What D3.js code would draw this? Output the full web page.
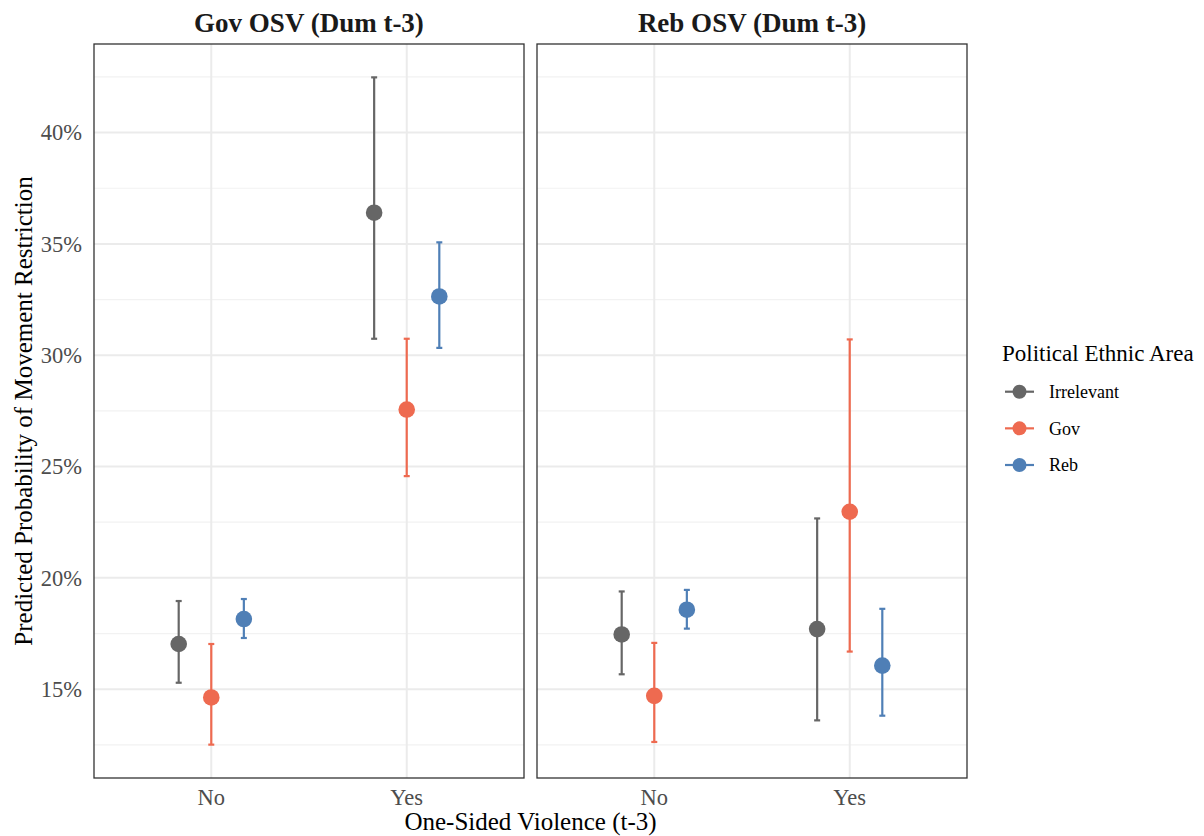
<!DOCTYPE html>
<html>
<head>
<meta charset="utf-8">
<script src="https://cdn.jsdelivr.net/npm/d3@7"></script>
<style>
  html, body { margin: 0; padding: 0; background: #fff; }
  svg { display: block; font-family: "Liberation Serif", "DejaVu Serif", serif; }
</style>
</head>
<body>
<svg id="chart" width="1204" height="836"></svg>
<script>
// ---- data (percent) ----
const panels = ["Gov OSV (Dum t-3)", "Reb OSV (Dum t-3)"];
const categories = ["No", "Yes"];
const groups = ["Irrelevant", "Gov", "Reb"];
const groupColors = ["#666666", "#EE6A50", "#4F7FB6"];

// Gov OSV panel: values per group, [No, Yes]
const govIrrEst = [17.03, 36.40], govIrrLo = [15.29, 30.74], govIrrHi = [18.96, 42.48];
const govGovEst = [14.63, 27.56], govGovLo = [12.51, 24.57], govGovHi = [17.03, 30.74];
const govRebEst = [18.15, 32.64], govRebLo = [17.30, 30.33], govRebHi = [19.05, 35.07];
// Reb OSV panel
const rebIrrEst = [17.46, 17.70], rebIrrLo = [15.67, 13.60], rebIrrHi = [19.39, 22.67];
const rebGovEst = [14.70, 22.97], rebGovLo = [12.63, 16.69], rebGovHi = [17.08, 30.71];
const rebRebEst = [18.57, 16.06], rebRebLo = [17.72, 13.81], rebRebHi = [19.46, 18.61];

const yMajorTicks = [15, 20, 25, 30, 35, 40];
const yMinorTicks = [12.5, 17.5, 22.5, 27.5, 32.5, 37.5, 42.5];
const yTickLabels = ["15%", "20%", "25%", "30%", "35%", "40%"];

const yTitle = "Predicted Probability of Movement Restriction";
const xTitle = "One-Sided Violence (t-3)";
const legendTitle = "Political Ethnic Area";

// build rows
const panelData = [
  [[govIrrEst, govIrrLo, govIrrHi], [govGovEst, govGovLo, govGovHi], [govRebEst, govRebLo, govRebHi]],
  [[rebIrrEst, rebIrrLo, rebIrrHi], [rebGovEst, rebGovLo, rebGovHi], [rebRebEst, rebRebLo, rebRebHi]]
];
const rows = [];
panelData.forEach((pd, pi) => pd.forEach((g, gi) => categories.forEach((c, ci) => {
  rows.push({panel: pi, group: gi, cat: c, est: g[0][ci], lo: g[1][ci], hi: g[2][ci]});
})));

// ---- layout ----
const svg = d3.select("#chart");
const plotTop = 44, plotBottom = 778;
const panelX = [[94, 524], [537, 967]];

const dMin = d3.min(rows, d => d.lo), dMax = d3.max(rows, d => d.hi);
const pad = (dMax - dMin) * 0.05;
const y = d3.scaleLinear().domain([dMin - pad, dMax + pad]).range([plotBottom, plotTop]);

panelX.forEach((px, pi) => {
  const x = d3.scalePoint().domain(categories).range(px).padding(0.6);
  const step = x.step();
  const dodge = gi => (gi - 1) * step * 0.5 / 3;
  const g = svg.append("g");

  // minor grid
  g.selectAll(".minor").data(yMinorTicks).join("line")
    .attr("x1", px[0]).attr("x2", px[1])
    .attr("y1", d => y(d)).attr("y2", d => y(d))
    .attr("stroke", "#F2F2F2").attr("stroke-width", 1.2);
  // major grid
  g.selectAll(".major").data(yMajorTicks).join("line")
    .attr("x1", px[0]).attr("x2", px[1])
    .attr("y1", d => y(d)).attr("y2", d => y(d))
    .attr("stroke", "#EBEBEB").attr("stroke-width", 2);
  g.selectAll(".vmajor").data(categories).join("line")
    .attr("x1", d => x(d)).attr("x2", d => x(d))
    .attr("y1", plotTop).attr("y2", plotBottom)
    .attr("stroke", "#EBEBEB").attr("stroke-width", 2);

  const pr = rows.filter(r => r.panel === pi);
  // error bars
  const eb = g.selectAll(".eb").data(pr).join("g")
    .attr("stroke", d => groupColors[d.group]).attr("stroke-width", 2.2);
  eb.append("line")
    .attr("x1", d => x(d.cat) + dodge(d.group)).attr("x2", d => x(d.cat) + dodge(d.group))
    .attr("y1", d => y(d.lo)).attr("y2", d => y(d.hi));
  eb.append("line")
    .attr("x1", d => x(d.cat) + dodge(d.group) - 3).attr("x2", d => x(d.cat) + dodge(d.group) + 3)
    .attr("y1", d => y(d.lo)).attr("y2", d => y(d.lo));
  eb.append("line")
    .attr("x1", d => x(d.cat) + dodge(d.group) - 3).attr("x2", d => x(d.cat) + dodge(d.group) + 3)
    .attr("y1", d => y(d.hi)).attr("y2", d => y(d.hi));
  // points
  g.selectAll(".pt").data(pr).join("circle")
    .attr("cx", d => x(d.cat) + dodge(d.group)).attr("cy", d => y(d.est))
    .attr("r", 8.3).attr("fill", d => groupColors[d.group]);

  // border
  g.append("rect").attr("x", px[0]).attr("y", plotTop)
    .attr("width", px[1] - px[0]).attr("height", plotBottom - plotTop)
    .attr("fill", "none").attr("stroke", "#333333").attr("stroke-width", 1.3);

  // strip title
  g.append("text").attr("x", (px[0] + px[1]) / 2).attr("y", 32)
    .attr("text-anchor", "middle").attr("font-size", 27).attr("font-weight", "bold")
    .attr("fill", "#1a1a1a").text(panels[pi]);

  // x tick labels
  g.selectAll(".xt").data(categories).join("text")
    .attr("x", d => x(d)).attr("y", 805)
    .attr("text-anchor", "middle").attr("font-size", 22.5).attr("fill", "#4D4D4D")
    .text(d => d);
});

// y tick labels
svg.append("g").selectAll("text").data(yMajorTicks).join("text")
  .attr("x", 82).attr("y", d => y(d)).attr("dy", "0.35em")
  .attr("text-anchor", "end").attr("font-size", 22.5).attr("fill", "#4D4D4D")
  .text((d, i) => yTickLabels[i]);

// axis titles
svg.append("text").attr("x", (94 + 967) / 2).attr("y", 830)
  .attr("text-anchor", "middle").attr("font-size", 25).attr("fill", "#000").text(xTitle);
svg.append("text")
  .attr("transform", `translate(32,${(plotTop + plotBottom) / 2}) rotate(-90)`)
  .attr("text-anchor", "middle").attr("font-size", 25).attr("fill", "#000").text(yTitle);

// legend
const lg = svg.append("g");
lg.append("text").attr("x", 1002).attr("y", 361).attr("font-size", 23).attr("fill", "#000").text(legendTitle);
const legendY = d3.scalePoint().domain(groups).range([391.7, 465]);
const items = lg.selectAll(".li").data(groups).join("g")
  .attr("transform", d => `translate(0,${legendY(d)})`);
items.append("line").attr("x1", 1005).attr("x2", 1034).attr("y1", 0).attr("y2", 0)
  .attr("stroke", (d, i) => groupColors[i]).attr("stroke-width", 2.2);
items.append("circle").attr("cx", 1019.5).attr("cy", 0).attr("r", 7)
  .attr("fill", (d, i) => groupColors[i]);
items.append("text").attr("x", 1049).attr("y", 0).attr("dy", "0.35em")
  .attr("font-size", 18).attr("fill", "#000").text(d => d);
</script>
</body>
</html>
